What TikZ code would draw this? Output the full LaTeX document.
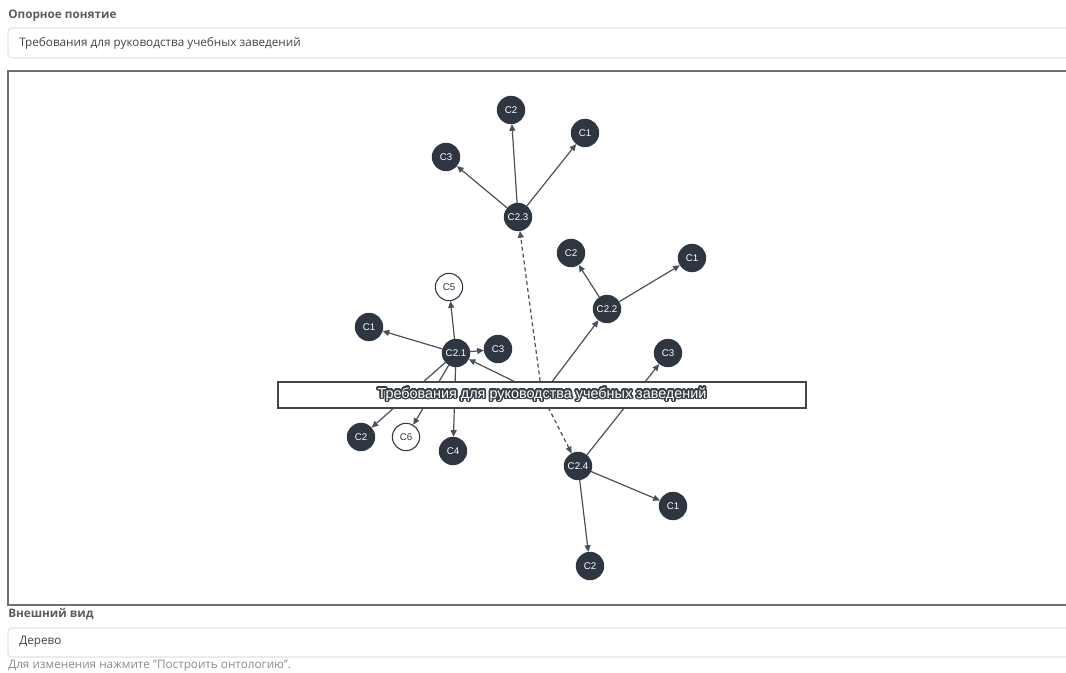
\documentclass[tikz,border=0pt]{standalone}
\usepackage{fontspec}
\setmainfont{Open Sans}
\newfontfamily\arialf{Liberation Sans}
\usepackage{contour}
\contourlength{1.15pt}
\contournumber{32}
\usetikzlibrary{arrows.meta,backgrounds}
\definecolor{nodefill}{HTML}{2E3642}
\definecolor{edgec}{HTML}{4A505A}
\definecolor{labelc}{HTML}{5C5C5C}
\definecolor{boxline}{HTML}{E3E3E3}
\definecolor{framec}{HTML}{707070}
\definecolor{textc}{HTML}{444444}
\definecolor{outc}{HTML}{3A3F47}
\definecolor{notec}{HTML}{8A8A8A}
\begin{document}
\begin{tikzpicture}[x=0.75pt,y=-0.75pt,
  cnode/.style={circle,fill=nodefill,draw=nodefill,line width=0.8pt,minimum size=20.5pt,inner sep=0pt,text=white,font=\arialf\fontsize{7.3}{8}\selectfont},
  wnode/.style={circle,fill=white,draw=nodefill,line width=0.8pt,minimum size=20.5pt,inner sep=0pt,text=nodefill,font=\arialf\fontsize{7.3}{8}\selectfont},
  edge/.style={draw=edgec,line width=0.9pt,-{Triangle[length=5pt,width=4.5pt]}},
  dedge/.style={edge,dash pattern=on 3pt off 2.2pt},
  rootbox/.style={rectangle,draw=textc,line width=1pt,fill=white,minimum width=396pt,minimum height=19.5pt,inner sep=0pt,font=\arialf\fontsize{10.8}{12}\selectfont},
  lbl/.style={anchor=west,inner sep=0pt,text=labelc,font=\bfseries\fontsize{8.8}{10}\selectfont},
  inp/.style={anchor=west,inner sep=0pt,text=textc,font=\fontsize{8.8}{10}\selectfont},
  note/.style={anchor=west,inner sep=0pt,text=notec,font=\fontsize{8.8}{10}\selectfont},
  inbox/.style={draw=boxline,line width=0.8pt,rounded corners=2.5pt,fill=white}
]
\useasboundingbox (0,0) rectangle (1066,673);

% nodes
\node[cnode] (c23) at (518,217) {C2.3};
\node[cnode] (c23a) at (511,110) {C2};
\node[cnode] (c23b) at (585,133) {C1};
\node[cnode] (c23c) at (446,157) {C3};
\node[cnode] (c22) at (607,309) {C2.2};
\node[cnode] (c22a) at (571,253) {C2};
\node[cnode] (c22b) at (692,258) {C1};
\node[cnode] (c21) at (456,353) {C2.1};
\node[wnode] (c21e) at (449,287) {C5};
\node[cnode] (c21a) at (369,327) {C1};
\node[cnode] (c21c) at (498,349) {C3};
\node[cnode] (c21b) at (361,437) {C2};
\node[wnode] (c21f) at (406,437) {C6};
\node[cnode] (c21d) at (453,451) {C4};
\node[cnode] (c24) at (578,466) {C2.4};
\node[cnode] (c24c) at (668,353) {C3};
\node[cnode] (c24a) at (673,506) {C1};
\node[cnode] (c24b) at (590,566) {C2};
\node[rootbox] (root) at (542,395) {\contour{outc}{\textcolor{white}{Требования для руководства учебных заведений}}};

% page labels
\node[lbl] (l1) at (8,16) {Опорное понятие};
\node[inp] (t1) at (19,43) {Требования для руководства учебных заведений};
\node[lbl] (l2) at (8,614) {Внешний вид};
\node[inp] (t2) at (19,642) {Дерево};
\node[note] (n1) at (8,666) {Для изменения нажмите "Построить онтологию".};

\begin{pgfonlayer}{background}
  \draw[inbox] (8,28) rectangle (1075,58);
  \draw[inbox] (8,628) rectangle (1075,657);
  \draw[framec,line width=1.3pt] (1075,71) -- (8,71) -- (8,605) -- (1075,605);
  % edges
  \draw[edge] (root.center) -- (c21);
  \draw[edge] (root.center) -- (c22);
  \draw[dedge] (root.center) -- (c23);
  \draw[dedge] (root.center) -- (c24);
  \draw[edge] (c21) -- (c21e);
  \draw[edge] (c21) -- (c21a);
  \draw[edge] (c21) -- (c21c);
  \draw[edge] (c21) -- (c21b);
  \draw[edge] (c21) -- (c21f);
  \draw[edge] (c21) -- (c21d);
  \draw[edge] (c22) -- (c22a);
  \draw[edge] (c22) -- (c22b);
  \draw[edge] (c23) -- (c23a);
  \draw[edge] (c23) -- (c23b);
  \draw[edge] (c23) -- (c23c);
  \draw[edge] (c24) -- (c24a);
  \draw[edge] (c24) -- (c24b);
  \draw[edge] (c24) -- (c24c);
\end{pgfonlayer}
\end{tikzpicture}
\end{document}
